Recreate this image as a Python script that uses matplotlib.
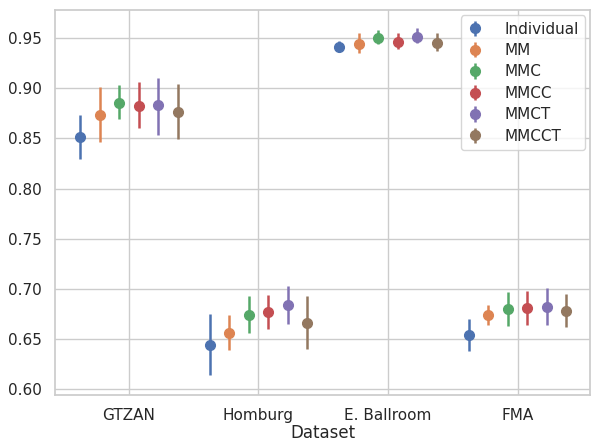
import numpy as np
import matplotlib
matplotlib.use("Agg")
import matplotlib.pyplot as plt
import seaborn as sns

datasets = ["GTZAN", "Homburg", "E. Ballroom", "FMA"]
methods = ["Individual", "MM", "MMC", "MMCC", "MMCT", "MMCCT"]

# mean accuracy per method, one value per dataset
means = {
    "Individual": [0.851, 0.644, 0.941, 0.654],
    "MM":         [0.873, 0.656, 0.944, 0.674],
    "MMC":        [0.885, 0.674, 0.950, 0.680],
    "MMCC":       [0.882, 0.677, 0.946, 0.681],
    "MMCT":       [0.883, 0.684, 0.951, 0.682],
    "MMCCT":      [0.876, 0.666, 0.945, 0.678],
}
# lower / upper ends of the error bars
lows = {
    "Individual": [0.830, 0.614, 0.937, 0.638],
    "MM":         [0.846, 0.639, 0.935, 0.664],
    "MMC":        [0.869, 0.656, 0.944, 0.663],
    "MMCC":       [0.860, 0.660, 0.939, 0.664],
    "MMCT":       [0.853, 0.665, 0.945, 0.664],
    "MMCCT":      [0.849, 0.640, 0.937, 0.662],
}
highs = {
    "Individual": [0.873, 0.675, 0.947, 0.670],
    "MM":         [0.901, 0.674, 0.955, 0.684],
    "MMC":        [0.903, 0.693, 0.958, 0.697],
    "MMCC":       [0.906, 0.694, 0.955, 0.698],
    "MMCT":       [0.910, 0.703, 0.960, 0.701],
    "MMCCT":      [0.904, 0.693, 0.955, 0.695],
}

sns.set_theme(style="whitegrid")
colors = sns.color_palette("deep", len(methods))

fig, ax = plt.subplots(figsize=(5.93, 4.41), dpi=100)
x = np.arange(len(datasets))
offsets = np.linspace(-0.375, 0.375, len(methods))

for i, m in enumerate(methods):
    mu = np.array(means[m])
    err = np.vstack([mu - np.array(lows[m]), np.array(highs[m]) - mu])
    ax.errorbar(x + offsets[i], mu, yerr=err, fmt="o", color=colors[i],
                markersize=7, elinewidth=1.8, capsize=0, label=m)

ax.set_xticks(x)
ax.set_xticklabels(datasets)
ax.set_xlim(-0.57, 3.56)
ax.set_ylim(0.594, 0.978)
ax.set_xlabel("Dataset", labelpad=0.5)
ax.legend(loc="upper right", fontsize=11, handlelength=1.0, handletextpad=1.4,
          labelspacing=0.42, borderaxespad=0.35)

fig.subplots_adjust(left=0.093, right=0.995, top=0.977, bottom=0.104)
fig.savefig("out.png", dpi=100)
